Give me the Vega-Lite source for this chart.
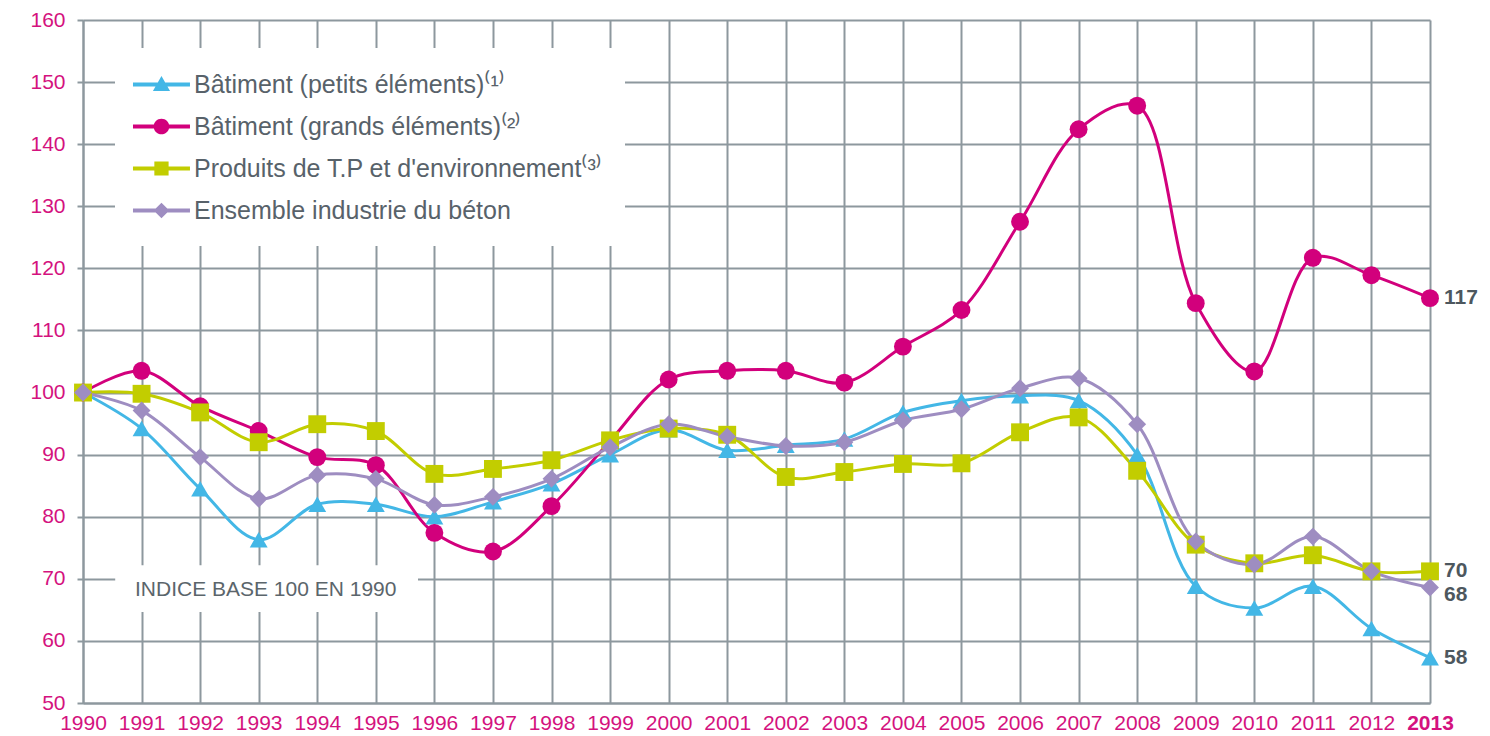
{
  "$schema": "https://vega.github.io/schema/vega-lite/v6.json",
  "width": 1347,
  "height": 683,
  "autosize": {"type": "none"},
  "padding": {"left": 83, "top": 20, "right": 60, "bottom": 33},
  "background": "white",
  "config": {
    "view": {"stroke": null},
    "font": "Liberation Sans",
    "axis": {
      "gridColor": "#8d989e", "gridWidth": 2, "gridOpacity": 1,
      "domainColor": "#8d989e", "domainWidth": 2,
      "tickColor": "#8d989e", "tickWidth": 2,
      "labelColor": "#d4127e", "labelFont": "Liberation Sans", "labelFontSize": 21,
      "title": null
    }
  },
  "datasets": {
    "main": [
      {"year": 1990, "series": "Bâtiment (petits éléments)⁽¹⁾", "value": 100},
      {"year": 1991, "series": "Bâtiment (petits éléments)⁽¹⁾", "value": 94.2},
      {"year": 1992, "series": "Bâtiment (petits éléments)⁽¹⁾", "value": 84.5},
      {"year": 1993, "series": "Bâtiment (petits éléments)⁽¹⁾", "value": 76.3},
      {"year": 1994, "series": "Bâtiment (petits éléments)⁽¹⁾", "value": 82.0},
      {"year": 1995, "series": "Bâtiment (petits éléments)⁽¹⁾", "value": 82.0},
      {"year": 1996, "series": "Bâtiment (petits éléments)⁽¹⁾", "value": 80.0},
      {"year": 1997, "series": "Bâtiment (petits éléments)⁽¹⁾", "value": 82.4},
      {"year": 1998, "series": "Bâtiment (petits éléments)⁽¹⁾", "value": 85.3},
      {"year": 1999, "series": "Bâtiment (petits éléments)⁽¹⁾", "value": 90.0},
      {"year": 2000, "series": "Bâtiment (petits éléments)⁽¹⁾", "value": 94.0},
      {"year": 2001, "series": "Bâtiment (petits éléments)⁽¹⁾", "value": 90.7},
      {"year": 2002, "series": "Bâtiment (petits éléments)⁽¹⁾", "value": 91.5},
      {"year": 2003, "series": "Bâtiment (petits éléments)⁽¹⁾", "value": 92.5},
      {"year": 2004, "series": "Bâtiment (petits éléments)⁽¹⁾", "value": 96.8},
      {"year": 2005, "series": "Bâtiment (petits éléments)⁽¹⁾", "value": 98.7},
      {"year": 2006, "series": "Bâtiment (petits éléments)⁽¹⁾", "value": 99.5},
      {"year": 2007, "series": "Bâtiment (petits éléments)⁽¹⁾", "value": 98.7},
      {"year": 2008, "series": "Bâtiment (petits éléments)⁽¹⁾", "value": 90.0},
      {"year": 2009, "series": "Bâtiment (petits éléments)⁽¹⁾", "value": 68.8},
      {"year": 2010, "series": "Bâtiment (petits éléments)⁽¹⁾", "value": 65.3},
      {"year": 2011, "series": "Bâtiment (petits éléments)⁽¹⁾", "value": 68.8},
      {"year": 2012, "series": "Bâtiment (petits éléments)⁽¹⁾", "value": 62.0},
      {"year": 2013, "series": "Bâtiment (petits éléments)⁽¹⁾", "value": 57.3},
      {"year": 1990, "series": "Bâtiment (grands éléments)⁽²⁾", "value": 100},
      {"year": 1991, "series": "Bâtiment (grands éléments)⁽²⁾", "value": 103.5},
      {"year": 1992, "series": "Bâtiment (grands éléments)⁽²⁾", "value": 97.8},
      {"year": 1993, "series": "Bâtiment (grands éléments)⁽²⁾", "value": 93.8},
      {"year": 1994, "series": "Bâtiment (grands éléments)⁽²⁾", "value": 89.6},
      {"year": 1995, "series": "Bâtiment (grands éléments)⁽²⁾", "value": 88.3},
      {"year": 1996, "series": "Bâtiment (grands éléments)⁽²⁾", "value": 77.4},
      {"year": 1997, "series": "Bâtiment (grands éléments)⁽²⁾", "value": 74.4},
      {"year": 1998, "series": "Bâtiment (grands éléments)⁽²⁾", "value": 81.7},
      {"year": 1999, "series": "Bâtiment (grands éléments)⁽²⁾", "value": 92.2},
      {"year": 2000, "series": "Bâtiment (grands éléments)⁽²⁾", "value": 102.1},
      {"year": 2001, "series": "Bâtiment (grands éléments)⁽²⁾", "value": 103.5},
      {"year": 2002, "series": "Bâtiment (grands éléments)⁽²⁾", "value": 103.5},
      {"year": 2003, "series": "Bâtiment (grands éléments)⁽²⁾", "value": 101.6},
      {"year": 2004, "series": "Bâtiment (grands éléments)⁽²⁾", "value": 107.4},
      {"year": 2005, "series": "Bâtiment (grands éléments)⁽²⁾", "value": 113.3},
      {"year": 2006, "series": "Bâtiment (grands éléments)⁽²⁾", "value": 127.5},
      {"year": 2007, "series": "Bâtiment (grands éléments)⁽²⁾", "value": 142.4},
      {"year": 2008, "series": "Bâtiment (grands éléments)⁽²⁾", "value": 146.2},
      {"year": 2009, "series": "Bâtiment (grands éléments)⁽²⁾", "value": 114.4},
      {"year": 2010, "series": "Bâtiment (grands éléments)⁽²⁾", "value": 103.4},
      {"year": 2011, "series": "Bâtiment (grands éléments)⁽²⁾", "value": 121.7},
      {"year": 2012, "series": "Bâtiment (grands éléments)⁽²⁾", "value": 118.9},
      {"year": 2013, "series": "Bâtiment (grands éléments)⁽²⁾", "value": 115.2},
      {"year": 1990, "series": "Produits de T.P et d'environnement⁽³⁾", "value": 100},
      {"year": 1991, "series": "Produits de T.P et d'environnement⁽³⁾", "value": 99.8},
      {"year": 1992, "series": "Produits de T.P et d'environnement⁽³⁾", "value": 96.8},
      {"year": 1993, "series": "Produits de T.P et d'environnement⁽³⁾", "value": 92.0},
      {"year": 1994, "series": "Produits de T.P et d'environnement⁽³⁾", "value": 94.9},
      {"year": 1995, "series": "Produits de T.P et d'environnement⁽³⁾", "value": 93.8},
      {"year": 1996, "series": "Produits de T.P et d'environnement⁽³⁾", "value": 86.9},
      {"year": 1997, "series": "Produits de T.P et d'environnement⁽³⁾", "value": 87.7},
      {"year": 1998, "series": "Produits de T.P et d'environnement⁽³⁾", "value": 89.1},
      {"year": 1999, "series": "Produits de T.P et d'environnement⁽³⁾", "value": 92.3},
      {"year": 2000, "series": "Produits de T.P et d'environnement⁽³⁾", "value": 94.2},
      {"year": 2001, "series": "Produits de T.P et d'environnement⁽³⁾", "value": 93.2},
      {"year": 2002, "series": "Produits de T.P et d'environnement⁽³⁾", "value": 86.4},
      {"year": 2003, "series": "Produits de T.P et d'environnement⁽³⁾", "value": 87.2},
      {"year": 2004, "series": "Produits de T.P et d'environnement⁽³⁾", "value": 88.5},
      {"year": 2005, "series": "Produits de T.P et d'environnement⁽³⁾", "value": 88.6},
      {"year": 2006, "series": "Produits de T.P et d'environnement⁽³⁾", "value": 93.6},
      {"year": 2007, "series": "Produits de T.P et d'environnement⁽³⁾", "value": 96.0},
      {"year": 2008, "series": "Produits de T.P et d'environnement⁽³⁾", "value": 87.4},
      {"year": 2009, "series": "Produits de T.P et d'environnement⁽³⁾", "value": 75.5},
      {"year": 2010, "series": "Produits de T.P et d'environnement⁽³⁾", "value": 72.5},
      {"year": 2011, "series": "Produits de T.P et d'environnement⁽³⁾", "value": 73.8},
      {"year": 2012, "series": "Produits de T.P et d'environnement⁽³⁾", "value": 71.2},
      {"year": 2013, "series": "Produits de T.P et d'environnement⁽³⁾", "value": 71.2},
      {"year": 1990, "series": "Ensemble industrie du béton", "value": 100},
      {"year": 1991, "series": "Ensemble industrie du béton", "value": 97.1},
      {"year": 1992, "series": "Ensemble industrie du béton", "value": 89.6},
      {"year": 1993, "series": "Ensemble industrie du béton", "value": 82.9},
      {"year": 1994, "series": "Ensemble industrie du béton", "value": 86.7},
      {"year": 1995, "series": "Ensemble industrie du béton", "value": 86.1},
      {"year": 1996, "series": "Ensemble industrie du béton", "value": 81.9},
      {"year": 1997, "series": "Ensemble industrie du béton", "value": 83.2},
      {"year": 1998, "series": "Ensemble industrie du béton", "value": 86.1},
      {"year": 1999, "series": "Ensemble industrie du béton", "value": 91.2},
      {"year": 2000, "series": "Ensemble industrie du béton", "value": 94.9},
      {"year": 2001, "series": "Ensemble industrie du béton", "value": 92.9},
      {"year": 2002, "series": "Ensemble industrie du béton", "value": 91.4},
      {"year": 2003, "series": "Ensemble industrie du béton", "value": 92.0},
      {"year": 2004, "series": "Ensemble industrie du béton", "value": 95.5},
      {"year": 2005, "series": "Ensemble industrie du béton", "value": 97.3},
      {"year": 2006, "series": "Ensemble industrie du béton", "value": 100.7},
      {"year": 2007, "series": "Ensemble industrie du béton", "value": 102.3},
      {"year": 2008, "series": "Ensemble industrie du béton", "value": 94.9},
      {"year": 2009, "series": "Ensemble industrie du béton", "value": 76.0},
      {"year": 2010, "series": "Ensemble industrie du béton", "value": 72.3},
      {"year": 2011, "series": "Ensemble industrie du béton", "value": 76.8},
      {"year": 2012, "series": "Ensemble industrie du béton", "value": 71.2},
      {"year": 2013, "series": "Ensemble industrie du béton", "value": 68.6}
    ],
    "endLabels": [
      {"series": "Bâtiment (grands éléments)⁽²⁾", "year": 2013, "value": 115.2, "label": "117"},
      {"series": "Produits de T.P et d'environnement⁽³⁾", "year": 2013, "value": 71.2, "label": "70"},
      {"series": "Ensemble industrie du béton", "year": 2013, "value": 68.6, "label": "68"},
      {"series": "Bâtiment (petits éléments)⁽¹⁾", "year": 2013, "value": 57.3, "label": "58"}
    ],
    "note": [{"text": "INDICE BASE 100 EN 1990"}]
  },
  "layer": [
    {
      "data": {"name": "note"},
      "mark": {"type": "rect", "color": "white"},
      "encoding": {
        "x": {"datum": 1990.55, "type": "quantitative", "scale": {"domain": [1990, 2013], "nice": false, "zero": false}, "axis": {"values": [1990,1991,1992,1993,1994,1995,1996,1997,1998,1999,2000,2001,2002,2003,2004,2005,2006,2007,2008,2009,2010,2011,2012,2013], "format": "d", "grid": true, "ticks": false, "labelPadding": 9, "labelFlush": false, "labelFontWeight": {"condition": {"test": "datum.value == 2013", "value": "bold"}, "value": "normal"}}},
        "x2": {"datum": 1995.72},
        "y": {"datum": 72.2, "type": "quantitative", "scale": {"domain": [50, 160], "nice": false, "zero": false}, "axis": {"values": [50,60,70,80,90,100,110,120,130,140,150,160], "grid": true, "tickSize": 6, "labelPadding": 12}},
        "y2": {"datum": 64.66}
      }
    },
    {
      "data": {"name": "note"},
      "mark": {"type": "text", "fontSize": 21, "color": "#5b656b", "align": "center", "baseline": "middle"},
      "encoding": {
        "x": {"datum": 1993.12, "type": "quantitative"},
        "y": {"datum": 68.2, "type": "quantitative"},
        "text": {"field": "text"}
      }
    },
    {
      "data": {"name": "main"},
      "mark": {"type": "line", "interpolate": "catmull-rom", "strokeWidth": 3},
      "encoding": {
        "x": {"field": "year", "type": "quantitative"},
        "y": {"field": "value", "type": "quantitative"},
        "color": {"field": "series", "type": "nominal", "legend": null,
          "scale": {"domain": ["Bâtiment (petits éléments)⁽¹⁾", "Bâtiment (grands éléments)⁽²⁾", "Produits de T.P et d'environnement⁽³⁾", "Ensemble industrie du béton"], "range": ["#43b7e6", "#d2007c", "#c2cd00", "#9e8dc1"]}}
      }
    },
    {
      "data": {"name": "main"},
      "mark": {"type": "point", "filled": true, "opacity": 1, "size": 320},
      "encoding": {
        "x": {"field": "year", "type": "quantitative"},
        "y": {"field": "value", "type": "quantitative"},
        "color": {"field": "series", "type": "nominal", "legend": null,
          "scale": {"domain": ["Bâtiment (petits éléments)⁽¹⁾", "Bâtiment (grands éléments)⁽²⁾", "Produits de T.P et d'environnement⁽³⁾", "Ensemble industrie du béton"], "range": ["#43b7e6", "#d2007c", "#c2cd00", "#9e8dc1"]}},
        "shape": {"field": "series", "type": "nominal", "legend": null,
          "scale": {"domain": ["Bâtiment (petits éléments)⁽¹⁾", "Bâtiment (grands éléments)⁽²⁾", "Produits de T.P et d'environnement⁽³⁾", "Ensemble industrie du béton"], "range": ["triangle-up", "circle", "square", "diamond"]}}
      }
    },
    {
      "data": {"name": "main"},
      "mark": {"type": "point", "filled": true, "opacity": 0},
      "encoding": {
        "x": {"field": "year", "type": "quantitative"},
        "y": {"field": "value", "type": "quantitative"},
        "color": {"field": "series", "type": "nominal",
          "scale": {"domain": ["Bâtiment (petits éléments)⁽¹⁾", "Bâtiment (grands éléments)⁽²⁾", "Produits de T.P et d'environnement⁽³⁾", "Ensemble industrie du béton"], "range": ["#43b7e6", "#d2007c", "#c2cd00", "#9e8dc1"]},
          "legend": {"title": null, "orient": "none", "legendX": 32, "legendY": 28, "fillColor": "white", "padding": 22, "symbolSize": 812, "symbolStrokeWidth": 0, "symbolOpacity": 1, "labelFont": "Liberation Sans", "labelFontSize": 25, "labelColor": "#58626a", "labelOffset": 28, "rowPadding": 14, "labelLimit": 700}},
        "shape": {"field": "series", "type": "nominal",
          "scale": {"domain": ["Bâtiment (petits éléments)⁽¹⁾", "Bâtiment (grands éléments)⁽²⁾", "Produits de T.P et d'environnement⁽³⁾", "Ensemble industrie du béton"],
            "range": [
              "M-1.3,-0.14H2.7V0.14H-1.3Z M0.7,-0.6L1.3,0.45H0.1Z",
              "M-1.3,-0.14H2.7V0.14H-1.3Z M0.15,0A0.55,0.55 0 1,1 1.25,0A0.55,0.55 0 1,1 0.15,0Z",
              "M-1.3,-0.14H2.7V0.14H-1.3Z M0.2,-0.5H1.2V0.5H0.2Z",
              "M-1.3,-0.14H2.7V0.14H-1.3Z M0.7,-0.55L1.25,0L0.7,0.55L0.15,0Z"
            ]},
          "legend": {"title": null, "orient": "none", "legendX": 32, "legendY": 28, "fillColor": "white", "padding": 22, "symbolSize": 812, "symbolStrokeWidth": 0, "symbolOpacity": 1, "labelFont": "Liberation Sans", "labelFontSize": 25, "labelColor": "#58626a", "labelOffset": 28, "rowPadding": 14, "labelLimit": 700}}
      }
    },
    {
      "data": {"name": "endLabels"},
      "transform": [{"filter": "datum.label != '68'"}],
      "mark": {"type": "text", "align": "left", "baseline": "middle", "dx": 14, "fontSize": 21, "fontWeight": "bold", "color": "#4d575e"},
      "encoding": {
        "x": {"field": "year", "type": "quantitative"},
        "y": {"field": "value", "type": "quantitative"},
        "text": {"field": "label"}
      }
    },
    {
      "data": {"name": "endLabels"},
      "transform": [{"filter": "datum.label == '68'"}],
      "mark": {"type": "text", "align": "left", "baseline": "middle", "dx": 14, "dy": 7, "fontSize": 21, "fontWeight": "bold", "color": "#4d575e"},
      "encoding": {
        "x": {"field": "year", "type": "quantitative"},
        "y": {"field": "value", "type": "quantitative"},
        "text": {"field": "label"}
      }
    }
  ],
  "resolve": {"scale": {"color": "independent", "shape": "independent"}, "legend": {"color": "independent", "shape": "independent"}}
}
